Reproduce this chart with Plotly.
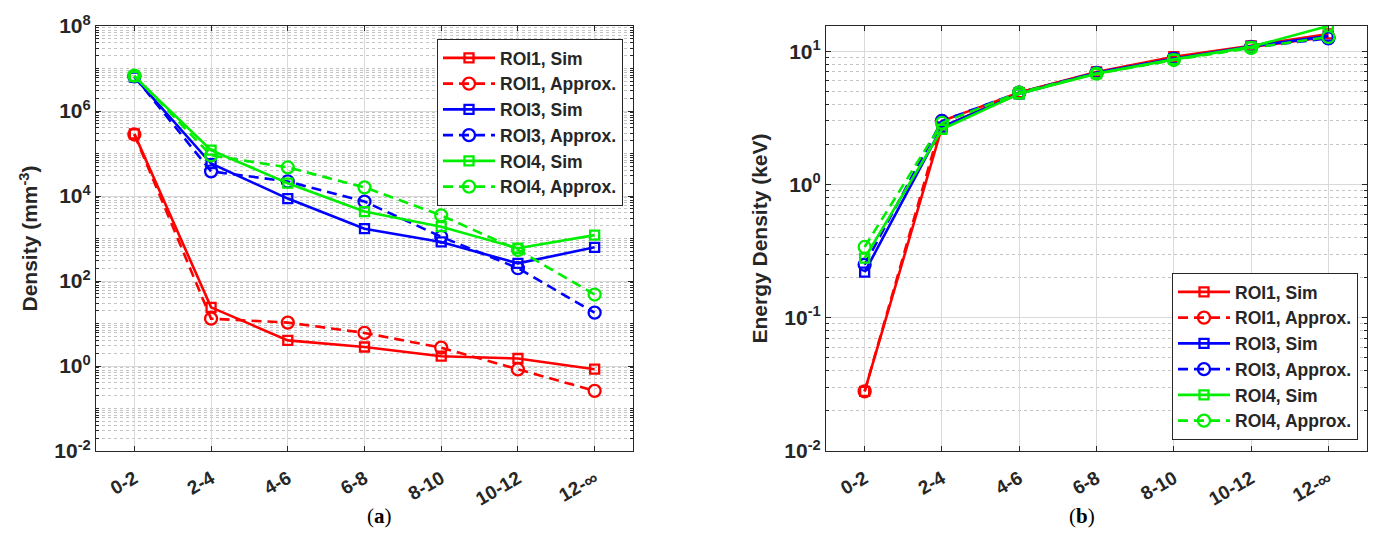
import plotly.graph_objects as go

categories = ["0-2", "2-4", "4-6", "6-8", "8-10", "10-12", "12-\u221e"]

# Panel (a): Density (mm^-3)
a_roi1_sim = [2.9e5, 24, 4.0, 2.8, 1.7, 1.5, 0.84]
a_roi1_approx = [2.8e5, 13, 10.5, 6.0, 2.7, 0.83, 0.26]
a_roi3_sim = [6.3e6, 5.8e4, 8.7e3, 1.7e3, 830, 260, 620]
a_roi3_approx = [6.5e6, 3.8e4, 2.2e4, 7.4e3, 1.1e3, 200, 18]
a_roi4_sim = [6.5e6, 1.2e5, 2.0e4, 4.3e3, 1.9e3, 590, 1.2e3]
a_roi4_approx = [6.8e6, 9.0e4, 4.7e4, 1.6e4, 3.5e3, 540, 48]

# Panel (b): Energy Density (keV)
b_roi1_sim = [0.028, 2.7, 4.9, 7.0, 9.1, 11.0, 13.5]
b_roi1_approx = [0.028, 3.0, 4.9, 6.9, 8.9, 10.8, 12.8]
b_roi3_sim = [0.22, 2.7, 4.8, 6.9, 8.8, 10.9, 13.0]
b_roi3_approx = [0.25, 3.0, 4.9, 6.9, 8.8, 10.7, 12.5]
b_roi4_sim = [0.28, 2.6, 4.8, 6.8, 8.7, 10.8, 15.5]
b_roi4_approx = [0.34, 2.9, 4.9, 6.8, 8.6, 10.6, 12.8]

names = ["ROI1, Sim", "ROI1, Approx.", "ROI3, Sim", "ROI3, Approx.", "ROI4, Sim", "ROI4, Approx."]
colors = ["#FF0000", "#FF0000", "#0000FF", "#0000FF", "#00EE00", "#00EE00"]
a_series = [a_roi1_sim, a_roi1_approx, a_roi3_sim, a_roi3_approx, a_roi4_sim, a_roi4_approx]
b_series = [b_roi1_sim, b_roi1_approx, b_roi3_sim, b_roi3_approx, b_roi4_sim, b_roi4_approx]

FONT = "Liberation Sans, Arial, sans-serif"
TXT = "#262626"
xs = list(range(len(categories)))

fig = go.Figure()

def add(series, xa, ya, legend):
    for name, col, vals in zip(names, colors, series):
        approx = "Approx" in name
        fig.add_trace(go.Scatter(
            x=xs, y=vals, name=name, mode="lines+markers",
            line=dict(color=col, width=2.6, dash="10px,6px" if approx else "solid"),
            marker=dict(symbol="circle-open" if approx else "square-open",
                        size=12 if approx else 9, color=col,
                        line=dict(width=2.3, color=col)),
            xaxis=xa, yaxis=ya, legend=legend,
        ))

add(a_series, "x", "y", "legend")
add(b_series, "x2", "y2", "legend2")

grid = "#D9D9D9"
axis_line = "#262626"

def xaxis_cfg(domain, anchor):
    return dict(
        domain=domain, anchor=anchor, range=[-0.5, 6.5],
        tickvals=xs, ticktext=categories,
        tickangle=-30, tickfont=dict(family=FONT, size=19, color=TXT, weight="bold"),
        ticklabelstandoff=8,
        showgrid=True, gridcolor=grid, gridwidth=1,
        showline=True, linecolor=axis_line, linewidth=1.2, mirror="ticks",
        ticks="inside", ticklen=5, tickcolor=axis_line,
        zeroline=False, automargin=False,
    )

def yaxis_cfg(domain, anchor, rng, tv, title, standoff):
    return dict(
        domain=domain, anchor=anchor, type="log", range=rng,
        tickvals=[10 ** p for p in tv],
        ticktext=["10<sup>%d</sup>" % p for p in tv],
        tickfont=dict(family=FONT, size=21, color=TXT, weight="bold"),
        showgrid=True, gridcolor=grid, gridwidth=1,
        minor=dict(dtick="D1", showgrid=True, gridcolor="#C4C4C4", griddash="dot",
                   ticks="inside", ticklen=3, tickcolor=axis_line),
        showline=True, linecolor=axis_line, linewidth=1.2, mirror="ticks",
        ticks="inside", ticklen=5, tickcolor=axis_line,
        zeroline=False, automargin=False,
        title=dict(text=title, font=dict(family=FONT, size=21, color=TXT, weight="bold"),
                   standoff=standoff),
    )

ydom = [1 - 451 / 550, 1 - 26 / 550]
legend_common = dict(bgcolor="white", bordercolor="#262626", borderwidth=1,
                     font=dict(family=FONT, size=17.5, color=TXT, weight="bold"),
                     tracegroupgap=0, itemwidth=52)
fig.update_layout(
    width=1373, height=550,
    margin=dict(l=0, r=0, t=0, b=0),
    paper_bgcolor="white", plot_bgcolor="white",
    xaxis=xaxis_cfg([96 / 1373, 633 / 1373], "y"),
    yaxis=yaxis_cfg(ydom, "x", [-2, 8], [-2, 0, 2, 4, 6, 8], "Density (mm<sup>-3</sup>)", 10),
    xaxis2=xaxis_cfg([826 / 1373, 1367 / 1373], "y2"),
    yaxis2=yaxis_cfg(ydom, "x2", [-2, 1.19], [-2, -1, 0, 1], "Energy Density (keV)", 10),
    legend=dict(x=623 / 1373, xanchor="right", y=1 - 39 / 550, yanchor="top", **legend_common),
    legend2=dict(x=1358 / 1373, xanchor="right", y=1 - 273 / 550, yanchor="top", **legend_common),
    annotations=[
        dict(text="(<b>a</b>)", x=365 / 1373, y=1 - 530 / 550, xref="paper", yref="paper",
             showarrow=False, font=dict(family="Liberation Serif, serif", size=21, color="black")),
        dict(text="(<b>b</b>)", x=1097 / 1373, y=1 - 530 / 550, xref="paper", yref="paper",
             showarrow=False, font=dict(family="Liberation Serif, serif", size=21, color="black")),
    ],
)

fig.write_html("out.html")
